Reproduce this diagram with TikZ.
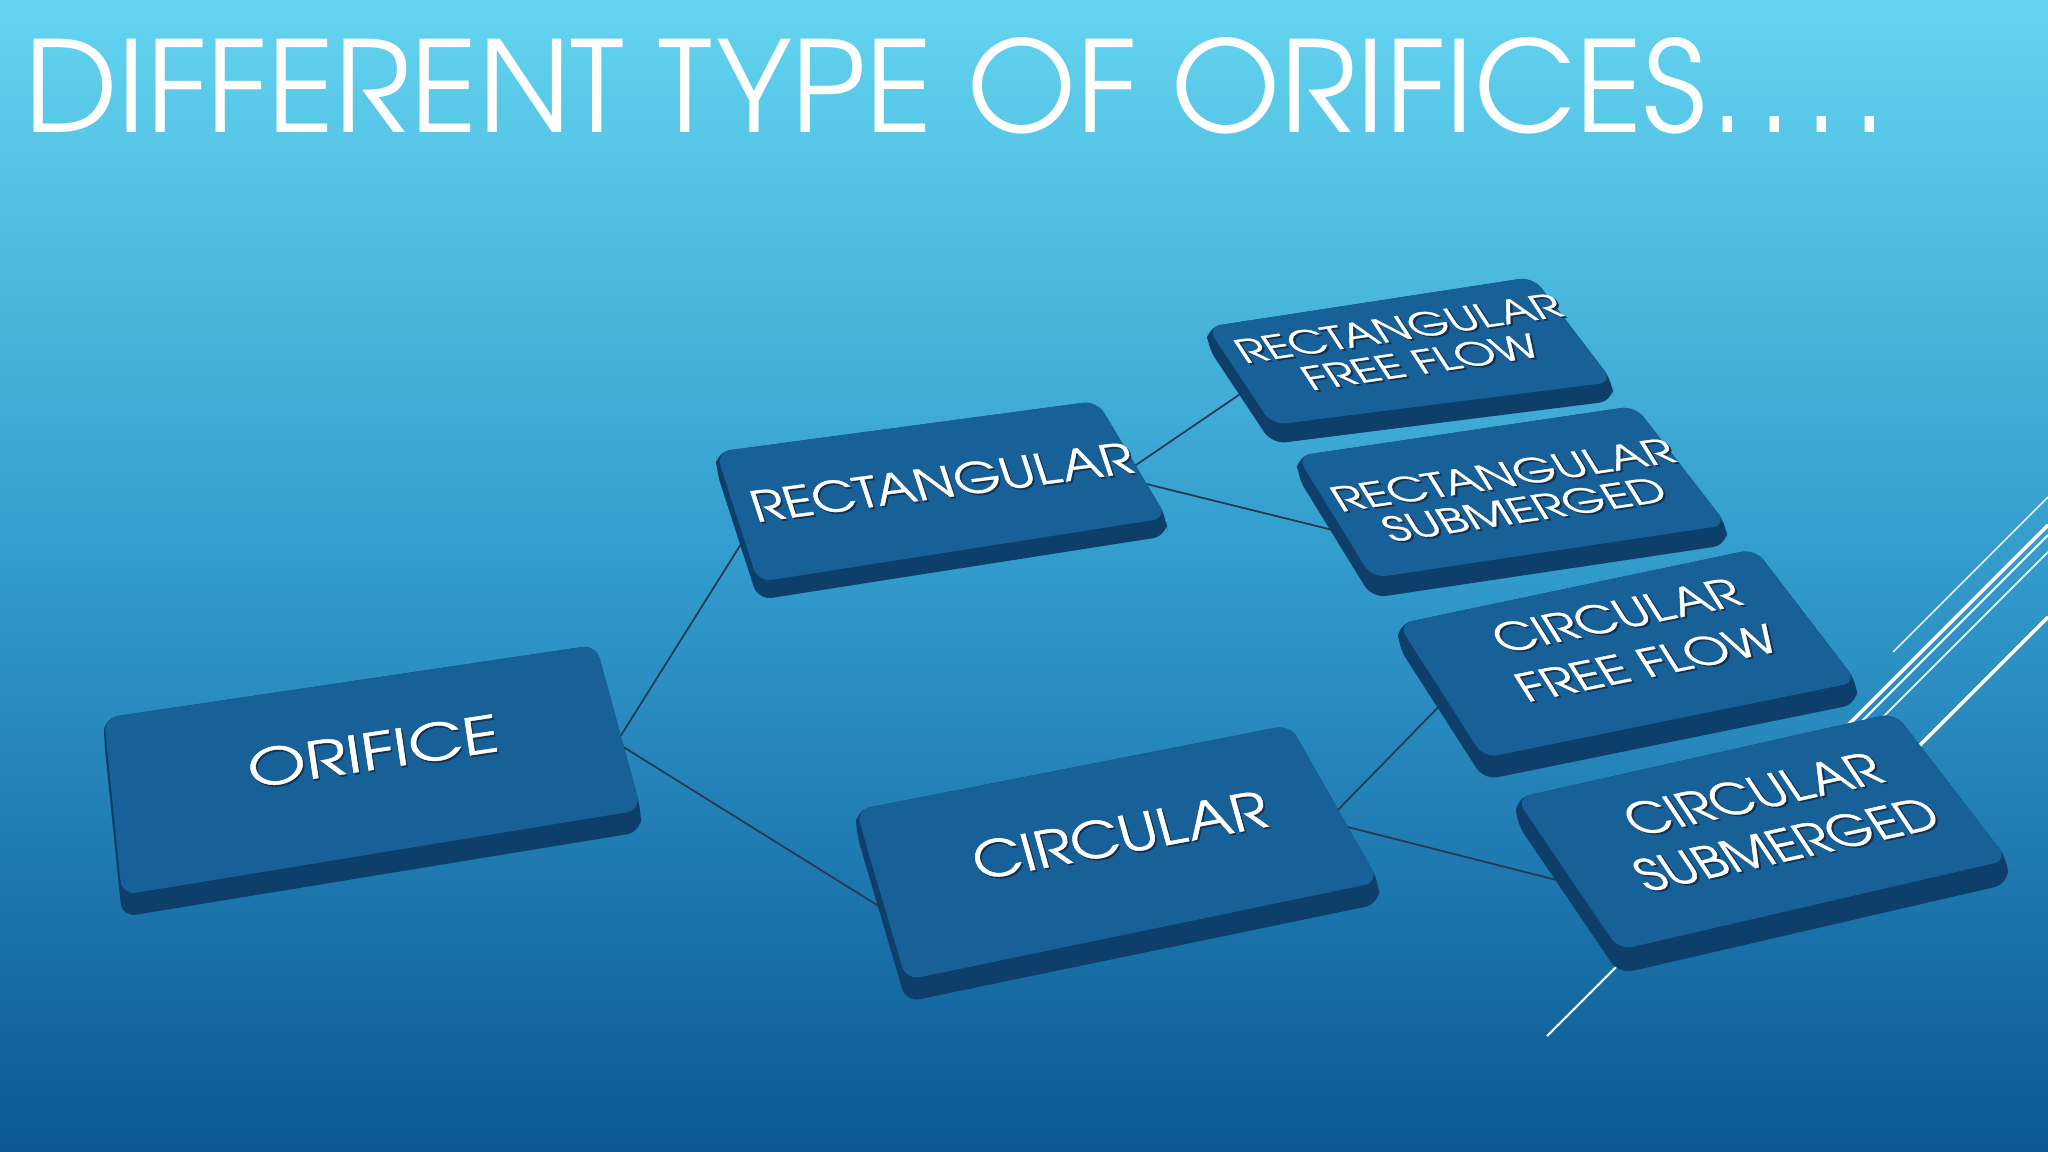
\documentclass[tikz,border=0pt]{standalone}
\usepackage{fontspec}
\usepackage{graphicx}
\usetikzlibrary{calc}
\newfontfamily\gothic{TeX Gyre Adventor}
\newfontfamily\gothicb{TeX Gyre Adventor}[FakeBold=0.8]
\definecolor{bgtop}{RGB}{100,212,240}
\definecolor{bgmid}{RGB}{50,156,205}
\definecolor{bgbot}{RGB}{12,88,148}
\definecolor{slabtop}{RGB}{24,96,152}
\definecolor{slabside}{RGB}{14,62,106}
\definecolor{linkcol}{RGB}{34,58,84}
\definecolor{lblshadow}{RGB}{20,50,80}
\newlength\pxu
\setlength\pxu{0.01cm}
\tikzstyle{link}=[draw=linkcol, line width=0.5pt]
\tikzstyle{slabtext}=[inner sep=0pt, align=center]
\tikzstyle{deco}=[draw=white, line cap=butt]
% embossed label line: width, cap height (px), text
\newcommand\lbl[3]{\rlap{\kern1.2\pxu\raisebox{-2\pxu}{\textcolor{lblshadow}{\resizebox{#1\pxu}{#2\pxu}{\gothicb #3}}}}\textcolor{white}{\resizebox{#1\pxu}{#2\pxu}{\gothicb #3}}}
% slab: name, thickness (px)
\newcommand\slab[2]{%
  \fill[slabside, rounded corners=4pt] (#1-tl) -- (#1-tr) -- (#1-br) -- ([yshift=-#2\pxu]#1-br) -- ([yshift=-#2\pxu]#1-bl) -- ([yshift=-#2\pxu]#1-tl) -- cycle;
  \fill[slabtop, rounded corners=4pt] (#1-tl) -- (#1-tr) -- (#1-br) -- (#1-bl) -- cycle;}

\begin{document}
\begin{tikzpicture}[x=0.01cm, y=-0.01cm]
  \useasboundingbox (0,0) rectangle (2048,1152);
  \fill[top color=bgtop, bottom color=bgmid] (0,0) rectangle (2048,560);
  \fill[top color=bgmid, bottom color=bgbot] (0,560) rectangle (2048,1152);

  % corner lines
  \draw[deco, line width=0.4pt] (1893,652) -- (2048,497);
  \draw[deco, line width=1pt] (2048,525) -- (1790,783);
  \draw[deco, line width=0.6pt] (2048,535) -- (1547,1036);
  \draw[deco, line width=0.45pt] (2048,552) -- (1820,780);
  \draw[deco, line width=1pt] (2048,617) -- (1870,795);

  \node[anchor=base west, inner sep=0pt, text=white] (title) at (24,133)
    {\resizebox{1862\pxu}{95\pxu}{\gothic DIFFERENT TYPE OF ORIFICES\kern.04em.\kern.1em.\kern.1em.\kern.1em.}};

  % slab corners
  \coordinate (orifice-tl) at (104,718);  \coordinate (orifice-tr) at (596,645);
  \coordinate (orifice-br) at (641,810);  \coordinate (orifice-bl) at (122,895);
  \coordinate (rect-tl) at (716,452);     \coordinate (rect-tr) at (1097,401);
  \coordinate (rect-br) at (1167,518);    \coordinate (rect-bl) at (758,582);
  \coordinate (circ-tl) at (856,810);     \coordinate (circ-tr) at (1290,725);
  \coordinate (circ-br) at (1379,882);    \coordinate (circ-bl) at (906,980);
  \coordinate (rff-tl) at (1207,327);     \coordinate (rff-tr) at (1533,277);
  \coordinate (rff-br) at (1613,382);     \coordinate (rff-bl) at (1272,425);
  \coordinate (rs-tl) at (1297,456);      \coordinate (rs-tr) at (1635,406);
  \coordinate (rs-br) at (1727,525);      \coordinate (rs-bl) at (1372,578);
  \coordinate (cff-tl) at (1398,624);     \coordinate (cff-tr) at (1755,549);
  \coordinate (cff-br) at (1857,682);     \coordinate (cff-bl) at (1484,758);
  \coordinate (cs-tl) at (1516,798);      \coordinate (cs-tr) at (1895,713);
  \coordinate (cs-br) at (2008,860);      \coordinate (cs-bl) at (1619,950);

  \draw[link] ($(orifice-tr)!.55!(orifice-br)$) -- ($(rect-tl)!.67!(rect-bl)$);
  \draw[link] ($(orifice-tr)!.62!(orifice-br)$) -- ($(circ-tl)!.59!(circ-bl)$);
  \draw[link] ($(rect-tr)!.55!(rect-br)$) -- ($(rff-tl)!.63!(rff-bl)$);
  \draw[link] ($(rect-tr)!.71!(rect-br)$) -- ($(rs-tl)!.63!(rs-bl)$);
  \draw[link] ($(circ-tr)!.54!(circ-br)$) -- ($(cff-tl)!.56!(cff-bl)$);
  \draw[link] ($(circ-tr)!.65!(circ-br)$) -- ($(cs-tl)!.57!(cs-bl)$);

  \slab{orifice}{22}
  \slab{rect}{18}
  \slab{circ}{22}
  \slab{rff}{19}
  \slab{rs}{20}
  \slab{cff}{22}
  \slab{cs}{24}

  \node[slabtext, rotate=8.5] (orifice) at (373,752) {\lbl{253}{38}{ORIFICE}};
  \node[slabtext, rotate=7.5, xslant=-0.19] (rect) at (942,483) {\lbl{384}{32}{RECTANGULAR}};
  \node[slabtext, rotate=10.5, xslant=-0.09] (circ) at (1120,836) {\lbl{298}{38}{CIRCULAR}};
  \node[slabtext, rotate=8.5, xslant=-0.46, font=\fontsize{10}{10.4}\selectfont] (rff) at (1410,346)
    {\lbl{325}{25}{RECTANGULAR}\\\lbl{235}{25}{FREE FLOW}};
  \node[slabtext, rotate=8.5, xslant=-0.43, font=\fontsize{10}{10.6}\selectfont] (rs) at (1514,493)
    {\lbl{342}{26}{RECTANGULAR}\\\lbl{282}{26}{SUBMERGED}};
  \node[slabtext, rotate=11.5, xslant=-0.38, font=\fontsize{10}{15}\selectfont] (cff) at (1632,640)
    {\lbl{248}{30}{CIRCULAR}\\\lbl{261}{30}{FREE FLOW}};
  \node[slabtext, rotate=12.5, xslant=-0.39, font=\fontsize{10}{16}\selectfont] (cs) at (1770,820)
    {\lbl{257}{34}{CIRCULAR}\\\lbl{304}{34}{SUBMERGED}};
\end{tikzpicture}
\end{document}
